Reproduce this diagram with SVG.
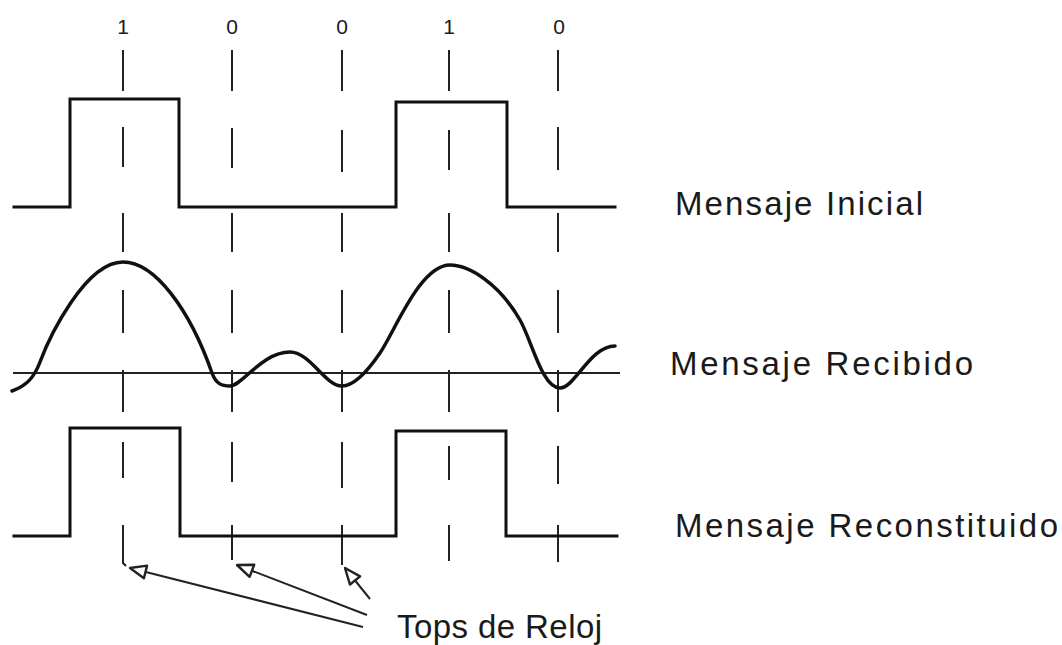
<svg xmlns="http://www.w3.org/2000/svg" width="1062" height="645" viewBox="0 0 1062 645">
<style>
.sig{fill:none;stroke:#111;stroke-width:3;stroke-linejoin:miter;stroke-linecap:square}
.curve{fill:none;stroke:#111;stroke-width:3.5;stroke-linecap:round;stroke-linejoin:round}
.axis{fill:none;stroke:#222;stroke-width:2}
.dash{fill:none;stroke:#222;stroke-width:2}
.arrow{fill:none;stroke:#222;stroke-width:2;marker-end:url(#head)}
.lbl{font-family:"Liberation Sans",Arial,sans-serif;font-size:33px;fill:#1a1a1a}
.bit{font-family:"Liberation Sans",Arial,sans-serif;font-size:21px;fill:#1a1a1a;text-anchor:middle}
</style>
<defs>
<marker id="head" markerUnits="userSpaceOnUse" viewBox="-3 -9 22 18" markerWidth="22" markerHeight="18" refX="16" refY="0" orient="auto">
<path d="M0,-6.5 L16,0 L0,6.5 Z" fill="#fff" stroke="#222" stroke-width="2.4" stroke-linejoin="round"/>
</marker>
</defs>
<rect width="1062" height="645" fill="#fff"/>

<g id="clock-ticks">
<path class="dash" d="M123,50V91M123,127V167M123,213V252M123,290V333M123,370V412M123,442V478M123,525V563L126,566"/>
<path class="dash" d="M232,50V91M232,128V168M232,213V252M232,290V333M232,370V412M232,442V482M232,525V560"/>
<path class="dash" d="M342,50V91M342,130V172M342,213V252M342,290V333M342,370V412M342,442V488M342,525V565"/>
<path class="dash" d="M449,50V91M449,130V170M449,213V252M449,290V333M449,370V412M449,446V480M449,525V561"/>
<path class="dash" d="M558,50V91M558,127V170M558,213V252M558,290V333M558,370V412M558,446V484M558,525V562"/>
</g>

<g id="bits">
<text class="bit" x="123" y="34">1</text>
<text class="bit" x="232" y="34">0</text>
<text class="bit" x="342" y="34">0</text>
<text class="bit" x="449" y="34">1</text>
<text class="bit" x="559" y="34">0</text>
</g>

<g id="mensaje-inicial">
<path class="sig" d="M14,207H70V99H179V207H396V102H507V207H615"/>
<text class="lbl" x="675" y="215" textLength="248" lengthAdjust="spacing">Mensaje Inicial</text>
</g>

<g id="mensaje-recibido">
<path class="axis" d="M13,373H620"/>
<path class="curve" d="M12,391C26,386 34,378 40,362C49,338 85,262 123,262C155,262 190,310 212,373C216,384 222,386 230,386C242,386 262,352 290,352C310,352 325,386 342,386C352,386 365,375 380,353C395,331 420,265 450,265C470,265 500,285 520,320C532,341 542,388 560,388C575,388 590,346 615,346"/>
<text class="lbl" x="670" y="375" textLength="303" lengthAdjust="spacing">Mensaje Recibido</text>
</g>

<g id="mensaje-reconstituido">
<path class="sig" d="M14,536H70V428H180V536H396V431H506V536H617"/>
<text class="lbl" x="675" y="537" textLength="383" lengthAdjust="spacing">Mensaje Reconstituido</text>
</g>

<g id="connectors">
<path class="arrow" d="M363,627L130,568"/>
<path class="arrow" d="M367,615L237,565"/>
<path class="arrow" d="M370,599L345,568"/>
</g>

<g id="tops-de-reloj">
<text class="lbl" x="397" y="638" textLength="205" lengthAdjust="spacing">Tops de Reloj</text>
</g>
</svg>
